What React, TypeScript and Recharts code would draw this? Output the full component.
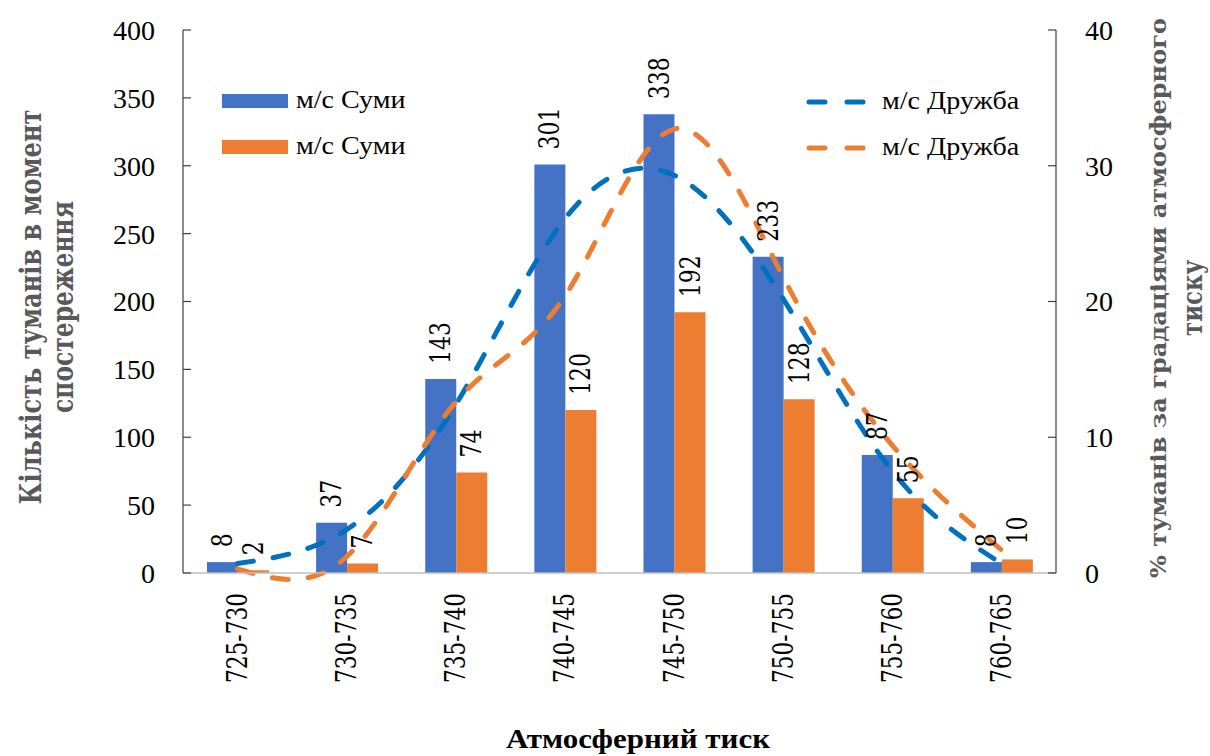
import {
  ComposedChart,
  Bar,
  Line,
  XAxis,
  YAxis,
  LabelList,
} from "recharts";

const categories = ["725-730", "730-735", "735-740", "740-745", "745-750", "750-755", "755-760", "760-765"];
const sumyCounts = [8, 37, 143, 301, 338, 233, 87, 8];
const sumyCounts2 = [2, 7, 74, 120, 192, 128, 55, 10];
const druzhbaPct = [0.7, 3.2, 12.4, 26.1, 29.3, 20.2, 7.5, 0.7];
const druzhbaPct2 = [0.3, 1.2, 12.6, 20.4, 32.7, 21.8, 9.4, 1.7];
const leftTicks = [0, 50, 100, 150, 200, 250, 300, 350, 400];
const rightTicks = [0, 10, 20, 30, 40];

const data = categories.map((c, i) => ({
  cat: c,
  a: sumyCounts[i],
  b: sumyCounts2[i],
  pa: druzhbaPct[i],
  pb: druzhbaPct2[i],
}));

const FONT = "Liberation Serif";
// rotated Liberation text comes out sans here, so vertical text uses DejaVu Serif squeezed to Times widths
const VFONT = "DejaVu Serif";
const BLUE = "#4472C4";
const ORANGE = "#ED7D31";
const LINE_BLUE = "#0070C0";

// rough Times New Roman advance for numbers like "725-730"
function timesLen(s: string, size: number) {
  let w = 0;
  for (const ch of String(s)) w += ch === "-" ? 0.333 : 0.5;
  return w * size;
}

function VText({ x, y, anchor, bold, fill, size, len, children }: any) {
  return (
    <g transform={`translate(${x},${y}) rotate(-90)`}>
      <text
        x={0}
        y={0}
        textAnchor={anchor}
        dominantBaseline="central"
        fontFamily={VFONT}
        fontWeight={bold ? "bold" : "normal"}
        fontSize={size}
        fill={fill}
        textLength={len}
        lengthAdjust="spacingAndGlyphs"
      >
        {children}
      </text>
    </g>
  );
}

function BarLabel(props: any) {
  const { x, y, width, value } = props;
  return (
    <VText
      x={Number(x) + Number(width) / 2}
      y={Number(y) - 15}
      anchor="start"
      fill="#000"
      size={28}
      len={timesLen(String(value), 28)}
    >
      {value}
    </VText>
  );
}

function CatTick(props: any) {
  const { x, y, payload } = props;
  return (
    <VText x={x} y={Number(y) + 12} anchor="end" fill="#000" size={28} len={timesLen(payload.value, 27)}>
      {payload.value}
    </VText>
  );
}

function Titles() {
  return (
    <g>
      <VText x={31} y={307} anchor="middle" bold fill="#595959" size={29} len={395}>
        Кількість туманів в момент
      </VText>
      <VText x={63} y={307} anchor="middle" bold fill="#595959" size={29} len={212}>
        спостереження
      </VText>
      <VText x={1158} y={298} anchor="middle" bold fill="#595959" size={22} len={560}>
        % туманів за градаціями атмосферного
      </VText>
      <VText x={1192} y={298} anchor="middle" bold fill="#595959" size={28} len={76}>
        тиску
      </VText>
    </g>
  );
}

function XTitle() {
  return (
    <text
      x={638}
      y={748}
      textAnchor="middle"
      fontFamily={FONT}
      fontWeight="bold"
      fontSize={27}
      fill="#000"
      textLength={264}
      lengthAdjust="spacingAndGlyphs"
    >
      Атмосферний тиск
    </text>
  );
}

const legendText: React.CSSProperties = {
  position: "absolute",
  fontFamily: FONT,
  fontSize: 26,
  color: "#000",
  whiteSpace: "nowrap",
  lineHeight: "28px",
  transform: "scaleX(1.08)",
  transformOrigin: "left center",
};

function DashSwatch({ color, x, y }: { color: string; x: number; y: number }) {
  return (
    <svg style={{ position: "absolute", left: x, top: y }} width={70} height={10}>
      <line x1={4} y1={5} x2={64} y2={5} stroke={color} strokeWidth={5} strokeDasharray="16 22" strokeLinecap="round" />
    </svg>
  );
}

export default function App() {
  return (
    <div style={{ position: "absolute", left: 0, top: 0, width: 1210, height: 756, background: "#fff", fontFamily: FONT }}>
      <ComposedChart
        width={1210}
        height={756}
        data={data}
        margin={{ top: 30, right: 0, left: 0, bottom: 0 }}
        barCategoryGap="22%"
        barGap={0}
      >
        <XAxis
          dataKey="cat"
          height={183}
          tick={<CatTick />}
          tickLine={false}
          axisLine={{ stroke: "#bfbfbf", strokeWidth: 1.5 }}
          interval={0}
          label={<XTitle />}
        />
        <YAxis
          yAxisId="left"
          orientation="left"
          width={183}
          domain={[0, 400]}
          ticks={leftTicks}
          tickSize={-8}
          tickMargin={36}
          tick={{ fontFamily: FONT, fontSize: 28, fill: "#000" }}
          axisLine={{ stroke: "#404040", strokeWidth: 1.2 }}
          tickLine={{ stroke: "#404040", strokeWidth: 1.2 }}
          label={<Titles />}
        />
        <YAxis
          yAxisId="right"
          orientation="right"
          width={154}
          domain={[0, 40]}
          ticks={rightTicks}
          tickSize={-8}
          tickMargin={37}
          tick={{ fontFamily: FONT, fontSize: 28, fill: "#000" }}
          axisLine={{ stroke: "#404040", strokeWidth: 1.2 }}
          tickLine={{ stroke: "#404040", strokeWidth: 1.2 }}
        />
        <Bar yAxisId="left" dataKey="a" fill={BLUE} barSize={31} isAnimationActive={false}>
          <LabelList dataKey="a" content={<BarLabel />} />
        </Bar>
        <Bar yAxisId="left" dataKey="b" fill={ORANGE} barSize={31} isAnimationActive={false}>
          <LabelList dataKey="b" content={<BarLabel />} />
        </Bar>
        <Line
          yAxisId="right"
          type="natural"
          dataKey="pa"
          stroke={LINE_BLUE}
          strokeWidth={5}
          strokeDasharray="16 20"
          strokeLinecap="round"
          dot={false}
          activeDot={false}
          isAnimationActive={false}
        />
        <Line
          yAxisId="right"
          type="natural"
          dataKey="pb"
          stroke={ORANGE}
          strokeWidth={5}
          strokeDasharray="16 20"
          strokeLinecap="round"
          dot={false}
          activeDot={false}
          isAnimationActive={false}
        />
      </ComposedChart>

      <div style={{ position: "absolute", left: 222, top: 94, width: 66, height: 14, background: BLUE }} />
      <div style={{ ...legendText, left: 296, top: 86 }}>м/с Суми</div>
      <div style={{ position: "absolute", left: 222, top: 140, width: 66, height: 14, background: ORANGE }} />
      <div style={{ ...legendText, left: 296, top: 132 }}>м/с Суми</div>

      <DashSwatch color={LINE_BLUE} x={805} y={97} />
      <div style={{ ...legendText, left: 882, top: 87 }}>м/с Дружба</div>
      <DashSwatch color={ORANGE} x={805} y={143} />
      <div style={{ ...legendText, left: 882, top: 133 }}>м/с Дружба</div>
    </div>
  );
}
